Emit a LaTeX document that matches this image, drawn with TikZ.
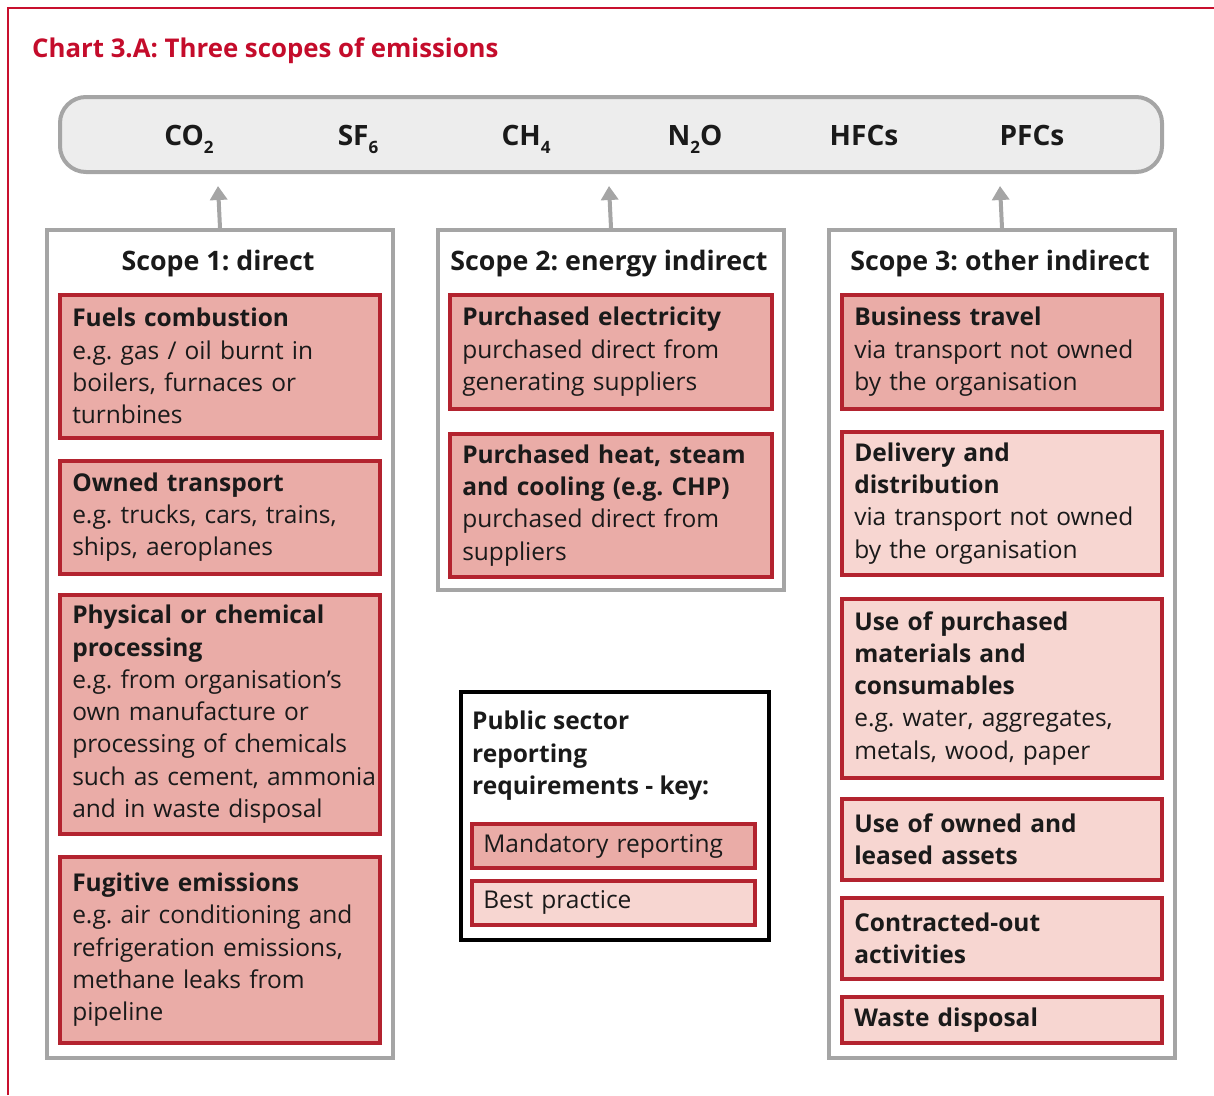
\documentclass[tikz,border=0pt]{standalone}
\usepackage{fontspec}
\setmainfont{Open Sans}
\usetikzlibrary{arrows.meta}
\definecolor{framered}{HTML}{C8102E}
\definecolor{titlered}{HTML}{C40C2B}
\definecolor{redline}{HTML}{B3232F}
\definecolor{mandfill}{HTML}{EAACA7}
\definecolor{bestfill}{HTML}{F7D6D1}
\definecolor{boxgray}{HTML}{A5A5A5}
\definecolor{barfill}{HTML}{EDEDED}
\definecolor{txt}{HTML}{1A1A1A}
\newcommand{\gsub}[1]{\raisebox{-8pt}{\fontsize{17}{17}\selectfont #1}}
\tikzset{
  mand/.style={draw=redline, fill=mandfill, line width=3.5pt, anchor=north west,
    text width=295pt, inner xsep=12.5pt, inner ysep=0pt, align=left, text=txt,
    font=\fontsize{24.5}{32.3}\selectfont},
  best/.style={mand, fill=bestfill},
  scopebox/.style={draw=boxgray, line width=4pt, fill=white, anchor=north west, inner sep=0pt},
  scopetitle/.style={anchor=base, inner sep=0pt, font=\bfseries\fontsize{26.8}{30}\selectfont, text=txt},
  gas/.style={anchor=base, inner sep=0pt, font=\bfseries\fontsize{28}{30}\selectfont, text=txt},
  garrow/.style={draw=boxgray, line width=4pt, -{Triangle[width=17pt,length=14pt]}},
}
\begin{document}
\frenchspacing
\begin{tikzpicture}[x=1pt,y=-1pt]
\useasboundingbox (0,0) rectangle (1214,1095);
% frame
\draw[framered, line width=2.5pt] (8,1095) -- (8,8) -- (1214,8);
\node[anchor=base west, inner sep=0pt, text=titlered, font=\bfseries\fontsize{25.8}{30}\selectfont] (title) at (32,57) {Chart 3.A: Three scopes of emissions};

% gas bar
\node[draw=boxgray, line width=4pt, fill=barfill, rounded corners=26pt, minimum width=1102pt, minimum height=75pt, anchor=north west, inner sep=0pt] (bar) at (58,95) {};
\node[gas] (co2) at (189,145) {CO\gsub{2}};
\node[gas] (sf6) at (358,145) {SF\gsub{6}};
\node[gas] (ch4) at (526,145) {CH\gsub{4}};
\node[gas] (n2o) at (695,145) {N\gsub{2}O};
\node[gas] (hfc) at (864,145) {HFCs};
\node[gas] (pfc) at (1032,145) {PFCs};

% scope boxes
\node[scopebox, minimum width=346pt, minimum height=828pt] (s1) at (45,228) {};
\node[scopebox, minimum width=346pt, minimum height=360pt] (s2) at (436,228) {};
\node[scopebox, minimum width=346pt, minimum height=828pt] (s3) at (827,228) {};

\coordinate (a1) at (218,186);
\coordinate (a2) at (609,186);
\coordinate (a3) at (1000,186);
\draw[garrow] (s1.north) -- (a1);
\draw[garrow] (s2.north) -- (a2);
\draw[garrow] (s3.north) -- (a3);

\node[scopetitle] (s1t) at (218,270) {Scope 1: direct};
\node[scopetitle] (s2t) at (609,270) {Scope 2: energy indirect};
\node[scopetitle] (s3t) at (1000,270) {Scope 3: other indirect};

% scope 1
\node[mand, minimum height=143pt] (f1) at (58,293) {\textbf{Fuels combustion}\\e.g. gas / oil burnt in\\boilers, furnaces or\\turnbines};
\node[mand, minimum height=113pt] (f2) at (58,459) {\textbf{Owned transport}\\e.g. trucks, cars, trains,\\ships, aeroplanes};
\node[mand, minimum height=239pt] (f3) at (58,593) {\textbf{Physical or chemical}\\\textbf{processing}\\e.g. from organisation’s\\own manufacture or\\processing of chemicals\\\mbox{such as cement, ammonia}\\and in waste disposal};
\node[mand, minimum height=186pt] (f4) at (58,855) {\textbf{Fugitive emissions}\\e.g. air conditioning and\\refrigeration emissions,\\methane leaks from\\pipeline};

% scope 2
\node[mand, text width=297pt, minimum height=114pt] (e1) at (448,293) {\textbf{Purchased electricity}\\purchased direct from\\generating suppliers};
\node[mand, text width=297pt, minimum height=143pt] (e2) at (448,432) {\textbf{Purchased heat, steam}\\\textbf{and cooling (e.g. CHP)}\\purchased direct from\\suppliers};

% scope 3
\node[mand, minimum height=114pt] (o1) at (840,293) {\textbf{Business travel}\\via transport not owned\\by the organisation};
\node[best, minimum height=143pt] (o2) at (840,430) {\textbf{Delivery and}\\\textbf{distribution}\\via transport not owned\\by the organisation};
\node[best, minimum height=179pt] (o3) at (840,597) {\textbf{Use of purchased}\\\textbf{materials and}\\\textbf{consumables}\\e.g. water, aggregates,\\metals, wood, paper};
\node[best, minimum height=81pt] (o4) at (840,797) {\textbf{Use of owned and}\\\textbf{leased assets}};
\node[best, minimum height=81pt] (o5) at (840,896) {\textbf{Contracted-out}\\\textbf{activities}};
\node[best, minimum height=46pt] (o6) at (840,995) {\textbf{Waste disposal}};

% key
\node[draw=black, line width=4pt, fill=white, minimum width=308pt, minimum height=248pt, anchor=north west, inner sep=0pt] (key) at (459,690) {};
\node[anchor=north west, inner sep=0pt, align=left, text=txt, font=\bfseries\fontsize{24.5}{32.3}\selectfont] (keyt) at (472,711) {Public sector\\reporting\\requirements - key:};
\node[mand, text width=260pt, inner xsep=11.5pt, minimum height=44pt] (km) at (470,822) {Mandatory reporting};
\node[best, text width=260pt, inner xsep=11.5pt, minimum height=44pt] (kb) at (470,879) {Best practice};
\end{tikzpicture}
\end{document}
